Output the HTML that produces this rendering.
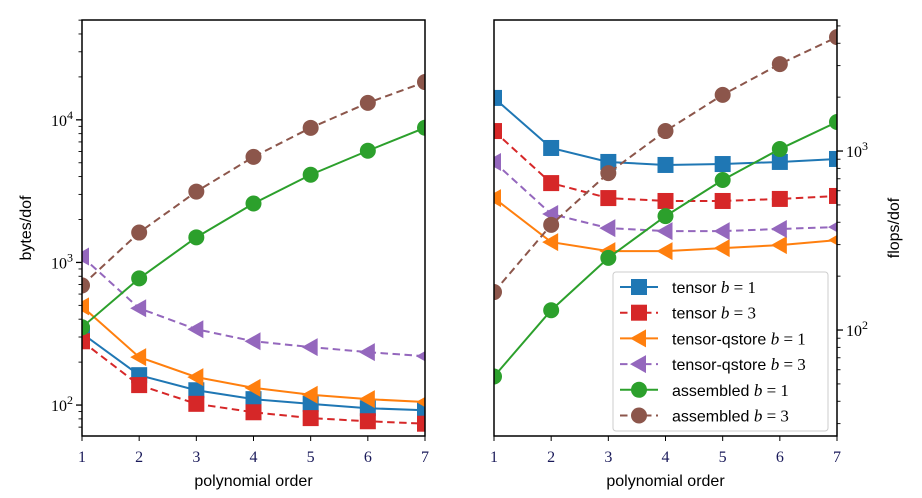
<!DOCTYPE html>
<html><head><meta charset="utf-8"><style>
body{margin:0;background:#fff}
svg{display:block}
text{font-family:"Liberation Sans",sans-serif}
.tk{font-family:"Liberation Serif",serif;font-size:16px}
</style></head><body>
<svg id="chart" width="922" height="498" viewBox="0 0 922 498"></svg>
<script>
const orders=[1,2,3,4,5,6,7];
const seriesNames=["tensor b=1","tensor b=3","tensor-qstore b=1","tensor-qstore b=3","assembled b=1","assembled b=3"];
const bytesTensorB1=[318,162,127,110,102,95,92];
const bytesTensorB3=[280,138,102,89,81,77,74];
const bytesQstoreB1=[492,217,157,132,118,110,105];
const bytesQstoreB3=[1100,477,340,280,255,235,220];
const bytesAssembledB1=[351,773,1500,2590,4120,6070,8800];
const bytesAssembledB3=[690,1620,3140,5500,8790,13150,18400];
const flopsTensorB1=[1980,1040,869,836,846,869,903];
const flopsTensorB3=[1293,662,546,526,526,540,561];
const flopsQstoreB1=[546,310,276,276,287,298,318];
const flopsQstoreB3=[869,445,371,357,357,367,376];
const flopsAssembledB1=[55,129,253,433,689,1026,1453];
const flopsAssembledB3=[163,387,753,1293,2060,3060,4330];

const NS="http://www.w3.org/2000/svg";
const svg=document.getElementById('chart');
function mk(tag,attrs,parent){const e=document.createElementNS(NS,tag);for(const k in attrs)e.setAttribute(k,attrs[k]);(parent||svg).appendChild(e);return e;}
const styles=[
 {c:"#1f77b4",dash:null,m:"sq"},{c:"#d62728",dash:"7.5,4.5",m:"sq"},
 {c:"#ff7f0e",dash:null,m:"tri"},{c:"#9467bd",dash:"7.5,4.5",m:"tri"},
 {c:"#2ca02c",dash:null,m:"ci"},{c:"#8c564b",dash:"7.5,4.5",m:"ci"}];
const keys=["tensor-b1","tensor-b3","qstore-b1","qstore-b3","assembled-b1","assembled-b3"];
function marker(g,m,x,y,c){
 if(m==="sq") return mk('rect',{x:x-8,y:y-8,width:16,height:16,fill:c},g);
 if(m==="ci") return mk('circle',{cx:x,cy:y,r:8,fill:c},g);
 return mk('polygon',{points:`${x-9},${y} ${x+7},${y-9} ${x+7},${y+9}`,fill:c},g);
}
function panel(name,x0,x1,yTop,yBot,logMin,logMax,data,rightAxis,ylabel){
 const g=mk('g',{});
 
 
 const xs=v=>x0+(v-1)/6*(x1-x0);
 const ys=v=>yBot-(Math.log10(v)-logMin)/(logMax-logMin)*(yBot-yTop);
 const clip=mk('clipPath',{id:'clip-'+name},g);
 mk('rect',{x:x0,y:yTop,width:x1-x0,height:yBot-yTop},clip);
 const plot=mk('g',{'clip-path':`url(#clip-${name})`},g);
 data.forEach((arr,i)=>{
  const s=styles[i];
  const sg=mk('g',{},plot);
  
  
  const pts=arr.map((v,j)=>xs(orders[j])+','+ys(v)).join(' ');
  const pl=mk('polyline',{points:pts,fill:'none',stroke:s.c,'stroke-width':2},sg);
  if(s.dash) pl.setAttribute('stroke-dasharray',s.dash);
  arr.forEach((v,j)=>{
   const mm=marker(sg,s.m,xs(orders[j]),ys(v),s.c);
   
   
  });
 });
 mk('rect',{x:x0,y:yTop,width:x1-x0,height:yBot-yTop,fill:'none',stroke:'#000','stroke-width':1.5},g);
 orders.forEach(o=>{
  const x=xs(o);
  mk('line',{x1:x,x2:x,y1:yBot,y2:yBot+5,stroke:'#000','stroke-width':1},g);
  const t=mk('text',{x:x,y:yBot+26,'text-anchor':'middle',class:'tk',fill:'#1a1a5a'},g);
  t.textContent=o;
  
  
 });
 const ax=rightAxis?x1:x0, dir=rightAxis?1:-1;
 for(let d=Math.floor(logMin);d<=Math.ceil(logMax);d++){
  for(let k=1;k<10;k++){
   const lv=d+Math.log10(k);
   if(lv<logMin||lv>logMax) continue;
   const y=yBot-(lv-logMin)/(logMax-logMin)*(yBot-yTop);
   const len=k===1?6:3.5;
   mk('line',{x1:ax,x2:ax+dir*len,y1:y,y2:y,stroke:'#000','stroke-width':k===1?1.3:0.9},g);
   if(k===1){
    const t=mk('text',{x:ax+dir*9,y:y+6,'text-anchor':rightAxis?'start':'end',class:'tk'},g);
    t.innerHTML=`10<tspan dy="-7" font-size="12">${d}</tspan>`;
    
    
   }
  }
 }
 const xl=mk('text',{x:(x0+x1)/2,y:486,'text-anchor':'middle','font-size':16},g);
 xl.textContent='polynomial order';
 
 
 const lx=rightAxis?899:31;
 const yl=mk('text',{x:lx,y:228,'text-anchor':'middle','font-size':16,transform:`rotate(-90 ${lx} 228)`},g);
 yl.textContent=ylabel;
 
 
}
panel('bytes-panel',82,425,20,436,1.783,4.70,
 [bytesTensorB1,bytesTensorB3,bytesQstoreB1,bytesQstoreB3,bytesAssembledB1,bytesAssembledB3],false,'bytes/dof');
panel('flops-panel',494,837,20,436,1.408,3.732,
 [flopsTensorB1,flopsTensorB3,flopsQstoreB1,flopsQstoreB3,flopsAssembledB1,flopsAssembledB3],true,'flops/dof');

const lg=mk('g',{});


mk('rect',{x:613,y:272,width:215,height:159,rx:3,fill:'#fff','fill-opacity':0.85,stroke:'#ccc','stroke-width':1},lg);
const legLabels=[["tensor ","1"],["tensor ","3"],["tensor-qstore ","1"],["tensor-qstore ","3"],["assembled ","1"],["assembled ","3"]];
legLabels.forEach((l,i)=>{
 const y=287+i*25.7, s=styles[i];
 const eg=mk('g',{},lg);
 
 
 const ln=mk('line',{x1:620,x2:658,y1:y,y2:y,stroke:s.c,'stroke-width':2},eg);
 if(s.dash) ln.setAttribute('stroke-dasharray',s.dash);
 marker(eg,s.m,639,y,s.c);
 const t=mk('text',{x:672,y:y+6,'font-size':16},eg);
 t.innerHTML=`${l[0]}<tspan font-family="Liberation Serif" font-style="italic" font-size="17">b</tspan><tspan font-family="Liberation Serif" font-size="17"> = ${l[1]}</tspan>`;
});
</script>
</body></html>
